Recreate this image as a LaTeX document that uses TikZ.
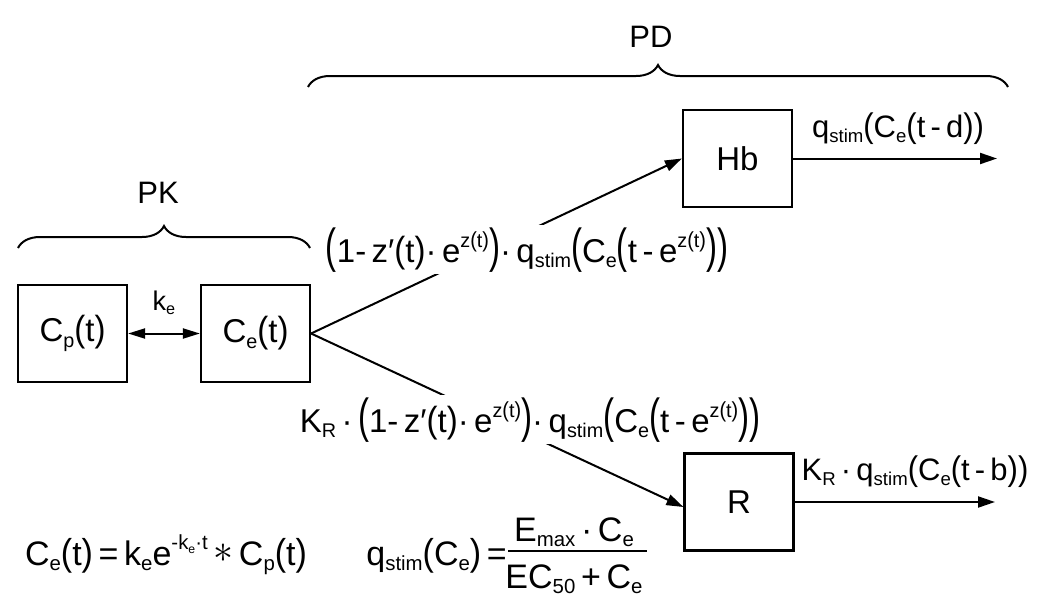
\documentclass[tikz,border=0pt]{standalone}
\usepackage{fontspec}
\setmainfont{Liberation Sans}
\usepackage{graphicx}
\usetikzlibrary{arrows.meta,decorations.pathreplacing}
\newcommand\lo[1]{\raisebox{-0.17em}{\scalebox{0.6}{#1}}}
\newcommand\hi[1]{\raisebox{0.45em}{\scalebox{0.6}{#1}}}
\newcommand\pl[1][1.1]{\scalebox{1}[#1]{(}}
\newcommand\pr[1][1.1]{\scalebox{1}[#1]{)}}
\newcommand\fs[1]{\fontsize{#1}{#1}\selectfont}
\newcommand\conv{\raisebox{0.08em}{\scalebox{1.6}{$\ast$}}}
\begin{document}
\begin{tikzpicture}[x=1pt,y=-1pt,
  box/.style={draw, line width=2.2pt, minimum width=109pt, minimum height=97pt, inner sep=0pt, font=\fs{33}},
  arr/.style={line width=2pt, -{Triangle[length=17pt,width=11pt]}},
  dbl/.style={line width=2pt, {Triangle[length=17pt,width=10pt]}-{Triangle[length=17pt,width=10pt]}},
  lbl/.style={fill=white, inner sep=2pt, anchor=base},
  txt/.style={inner sep=0pt, anchor=base},
  brc/.style={decorate, decoration={brace, amplitude=22pt}, line width=2pt}]
\useasboundingbox (0,0) rectangle (1050,608);
\fill[white] (0,0) rectangle (1050,608);
% boxes
\node[box] (cp) at (72.5,333.5) {C\lo{p}\pl t\pr};
\node[box] (ce) at (255.5,333.5) {C\lo{e}\pl t\pr};
\node[box] (hb) at (737.5,158.5) {Hb};
\node[box] (r) at (739,502) {R};
% connectors
\draw[dbl] (cp) -- (ce);
\node[txt, font=\fs{27}] (ke) at (164,310) {k\lo{e}};
\draw[arr] (ce.east) -- (hb.west);
\draw[arr] (ce.east) -- ([yshift=-5pt]r.west);
\node[lbl, font=\fs{33}] (l1) at (527,262) {\pl[1.45]1-\,z′\pl t\pr·\,e\hi{z\pl t\pr}\pr[1.45]·\,q\lo{stim}\pl[1.45]C\lo{e}\pl[1.45]t\,-\,e\hi{z\pl t\pr}\pr[1.45]\pr[1.45]};
\node[lbl, font=\fs{33}] (l2) at (530,432) {K\lo{R}\,·\,\pl[1.45]1-\,z′\pl t\pr·\,e\hi{z\pl t\pr}\pr[1.45]·\,q\lo{stim}\pl[1.45]C\lo{e}\pl[1.45]t\,-\,e\hi{z\pl t\pr}\pr[1.45]\pr[1.45]};
\coordinate (hbo) at (997,158.5);
\coordinate (ro) at (995,502);
\draw[arr] (hb.east) -- (hbo);
\draw[arr] (r.east) -- (ro);
\node[txt, font=\fs{31}] (o1) at (898,137) {q\lo{stim}\pl C\lo{e}\pl t\,-\,d\pr\pr};
\node[txt, font=\fs{31}] (o2) at (915,480) {K\lo{R}\,·\,q\lo{stim}\pl C\lo{e}\pl t\,-\,b\pr\pr};
% braces
\node[txt, font=\fs{31}] (pk) at (158,203) {PK};
\node[txt, font=\fs{31}] (pd) at (651,47) {PD};
\coordinate (pka) at (18,248);
\coordinate (pkb) at (310,248);
\coordinate (pda) at (308,87);
\coordinate (pdb) at (1008,87);
\draw[brc] (pka) -- (pkb);
\draw[brc] (pda) -- (pdb);
% formulas
\node[txt, font=\fs{34}] (f1) at (166,565) {C\lo{e}\pl t\pr\,=\,k\lo{e}e\hi{-k\lo{e}·t}\,\conv\,C\lo{p}\pl t\pr};
\node[inner sep=0pt, anchor=base east, font=\fs{34}] (f2) at (507,565) {q\lo{stim}\pl C\lo{e}\pr\,=};
\node[txt, font=\fs{34}] (num) at (574,541) {E\lo{max}\,·\,C\lo{e}};
\node[txt, font=\fs{34}] (den) at (574,588) {EC\lo{50}\,+\,C\lo{e}};
\draw[line width=2pt] (508,551) -- (647,551);
\end{tikzpicture}
\end{document}
